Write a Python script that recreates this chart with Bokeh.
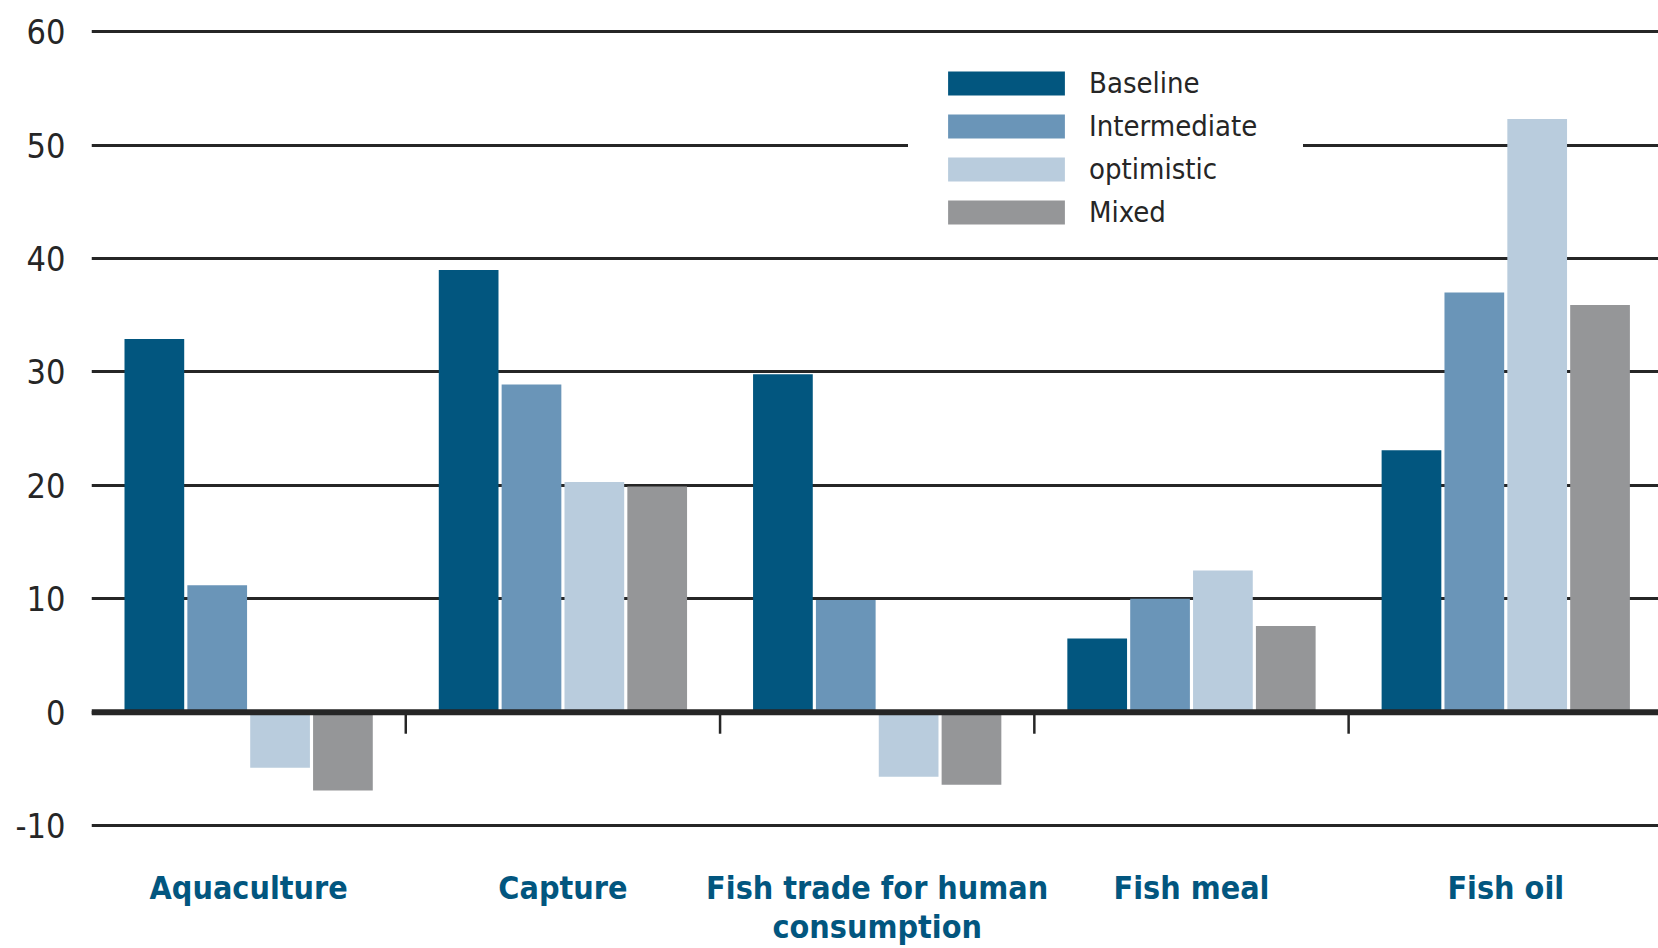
import numpy as np
from bokeh.plotting import figure
from bokeh.models import ColumnDataSource, Range1d, FixedTicker, Span, Legend, LegendItem
from bokeh.transform import dodge
from bokeh.core.properties import value
from bokeh.embed import file_html
from bokeh.resources import INLINE

# ---- data ----
categories = ["Aquaculture", "Capture", "Fish trade for human consumption", "Fish meal", "Fish oil"]
category_labels = ["Aquaculture", "Capture", "Fish trade for human\nconsumption", "Fish meal", "Fish oil"]
series = ["Baseline", "Intermediate", "optimistic", "Mixed"]
baseline = [32.9, 39.0, 29.8, 6.5, 23.1]
intermediate = [11.2, 28.9, 9.9, 10.0, 37.0]
optimistic = [-4.9, 20.3, -5.7, 12.5, 52.3]
mixed = [-6.9, 19.9, -6.4, 7.6, 35.9]
y_ticks = [-10, 0, 10, 20, 30, 40, 50, 60]
y_tick_labels = ["-10", "0", "10", "20", "30", "40", "50", "60"]

colors = ["#02567f", "#6a95b8", "#b9ccdd", "#959698"]
offsets = [-0.3, -0.1, 0.1, 0.3]
FONT = "DejaVu Sans Condensed, Liberation Sans, sans-serif"
INK = "#262626"
LABEL_BLUE = "#02567f"

n = len(categories)
centers = [i + 0.5 for i in range(n)]
source = ColumnDataSource(dict(x=centers, Baseline=baseline, Intermediate=intermediate,
                               optimistic=optimistic, Mixed=mixed))

p = figure(width=1658, height=948, output_backend="svg", toolbar_location=None,
           x_range=Range1d(0, n - 0.014), y_range=Range1d(-20.84, 62.76),
           min_border_left=91, min_border_right=0, min_border_top=0, min_border_bottom=0)
p.outline_line_color = None
p.background_fill_color = "white"

renderers = []
for name, col, off in zip(series, colors, offsets):
    r = p.vbar(x=dodge("x", off, range=p.x_range), top=name, bottom=0, width=0.19,
               source=source, fill_color=col, line_color=None)
    renderers.append(r)

# category boundary ticks below zero line
bounds = list(range(1, n))
p.segment(x0=bounds, y0=[0] * len(bounds), x1=bounds, y1=[-1.9] * len(bounds),
          line_color=INK, line_width=2.5)

zero = Span(location=0, dimension="width", line_color=INK, line_width=6)
p.add_layout(zero)

# category labels under the plot
p.text(x=centers, y=[-13.79] * n, text=category_labels,
       text_font=value(FONT), text_font_style="bold", text_font_size="32px",
       text_color=LABEL_BLUE, text_align="center", text_baseline="top",
       text_line_height=1.04)

# grid
p.xgrid.visible = False
p.ygrid.ticker = FixedTicker(ticks=y_ticks)
p.ygrid.grid_line_color = INK
p.ygrid.grid_line_width = 3

# y axis
p.yaxis.ticker = FixedTicker(ticks=y_ticks)
p.yaxis.major_label_overrides = {t: lab for t, lab in zip(y_ticks, y_tick_labels)}
p.yaxis.axis_line_color = None
p.yaxis.major_tick_line_color = None
p.yaxis.minor_tick_line_color = None
p.yaxis.major_label_standoff = 20
p.yaxis.major_label_text_font = FONT
p.yaxis.major_label_text_font_size = "34px"
p.yaxis.major_label_text_color = INK

p.xaxis.visible = False

legend = Legend(items=[LegendItem(label=s, renderers=[r]) for s, r in zip(series, renderers)],
                location=(817, 694), orientation="vertical")
legend.glyph_width = 146
legend.glyph_height = 30
legend.label_height = 30
legend.label_width = 189
legend.label_standoff = 10
legend.spacing = 9
legend.padding = 24
legend.margin = 0
legend.border_line_color = "white"
legend.border_line_width = 1
legend.background_fill_color = "white"
legend.background_fill_alpha = 1.0
legend.label_text_font = FONT
legend.label_text_font_size = "29px"
legend.label_text_color = INK
p.add_layout(legend)

open("out.html", "w").write(file_html(p, INLINE))
